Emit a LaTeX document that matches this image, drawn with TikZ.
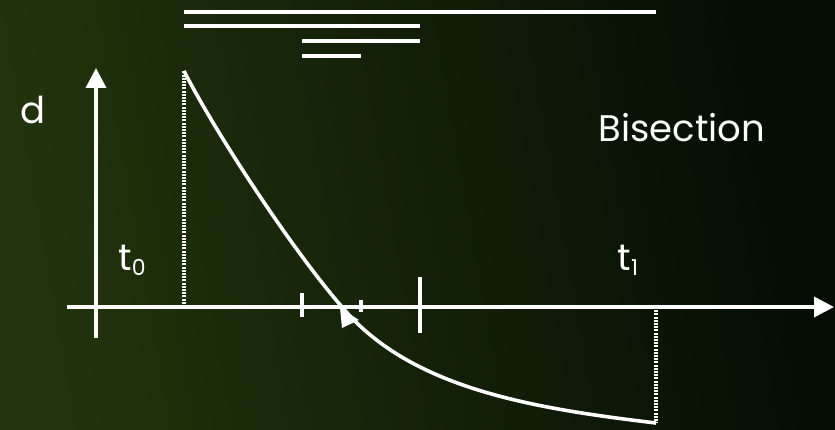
\documentclass[tikz,border=0pt]{standalone}
\usepackage{fontspec}
\setmainfont{Poppins}
\usetikzlibrary{arrows.meta}
\definecolor{bgL}{RGB}{34,52,12}
\definecolor{bgR}{RGB}{4,12,4}
\newcommand{\subnum}[1]{\raisebox{-5pt}{\fontsize{22}{24}\selectfont #1}}
\begin{document}
\begin{tikzpicture}[x=1pt,y=-1pt,
  ln/.style={white,line width=3.6pt},
  axis/.style={white,line width=3.6pt,-{Triangle[length=20pt,width=20pt]}},
  dots/.style={white,line width=3.6pt,dash pattern=on 2pt off 1.2pt},
  lbl/.style={white,font=\fontsize{37}{40}\selectfont,inner sep=0pt}]
\shade[left color=bgL,right color=bgR,shading angle=100] (0,0) rectangle (835,430);
\useasboundingbox (0,0) rectangle (835,430);
% interval bars
\coordinate (a1) at (184,12); \coordinate (b1) at (656,12);
\coordinate (a2) at (184,26); \coordinate (b2) at (420,26);
\coordinate (a3) at (302,41); \coordinate (b3) at (420,41);
\coordinate (a4) at (302,56); \coordinate (b4) at (361,56);
\draw[ln] (a1) -- (b1);
\draw[ln] (a2) -- (b2);
\draw[ln] (a3) -- (b3);
\draw[ln] (a4) -- (b4);
% axes
\coordinate (yb) at (96,338); \coordinate (yt) at (96,68);
\coordinate (xl) at (67,307); \coordinate (xr) at (834,307);
\draw[axis] (yb) -- (yt);
\draw[axis] (xl) -- (xr);
% curve
\coordinate (p0) at (184,71);
\coordinate (pz) at (342,307);
\coordinate (p1) at (656,423);
\coordinate (q0) at (184,307);
\coordinate (q1) at (656,307);
\draw[dots] (q0) -- (p0);
\draw[dots] (q1) -- (p1);
\draw[ln,line join=round] (p0) .. controls (214,130) and (290,247) .. (pz)
  .. controls (410,388) and (530,408) .. (p1);
% ticks
\coordinate (t1a) at (302,293); \coordinate (t1b) at (302,317);
\coordinate (t2a) at (361,300); \coordinate (t2b) at (361,312);
\coordinate (t3a) at (420,277); \coordinate (t3b) at (420,333);
\draw[ln] (t1a) -- (t1b);
\draw[ln] (t2a) -- (t2b);
\draw[ln] (t3a) -- (t3b);
% marker triangle
\fill[white] (340,308) -- (359,320) -- (342,328) -- cycle;
% labels
\node[lbl] (d) at (33,110) {d};
\node[lbl] (bis) at (682,128) {Bisection};
\node[lbl] (t0) at (132,260) {t\subnum{0}};
\node[lbl] (t1) at (628,260) {t\subnum{1}};
\end{tikzpicture}
\end{document}
